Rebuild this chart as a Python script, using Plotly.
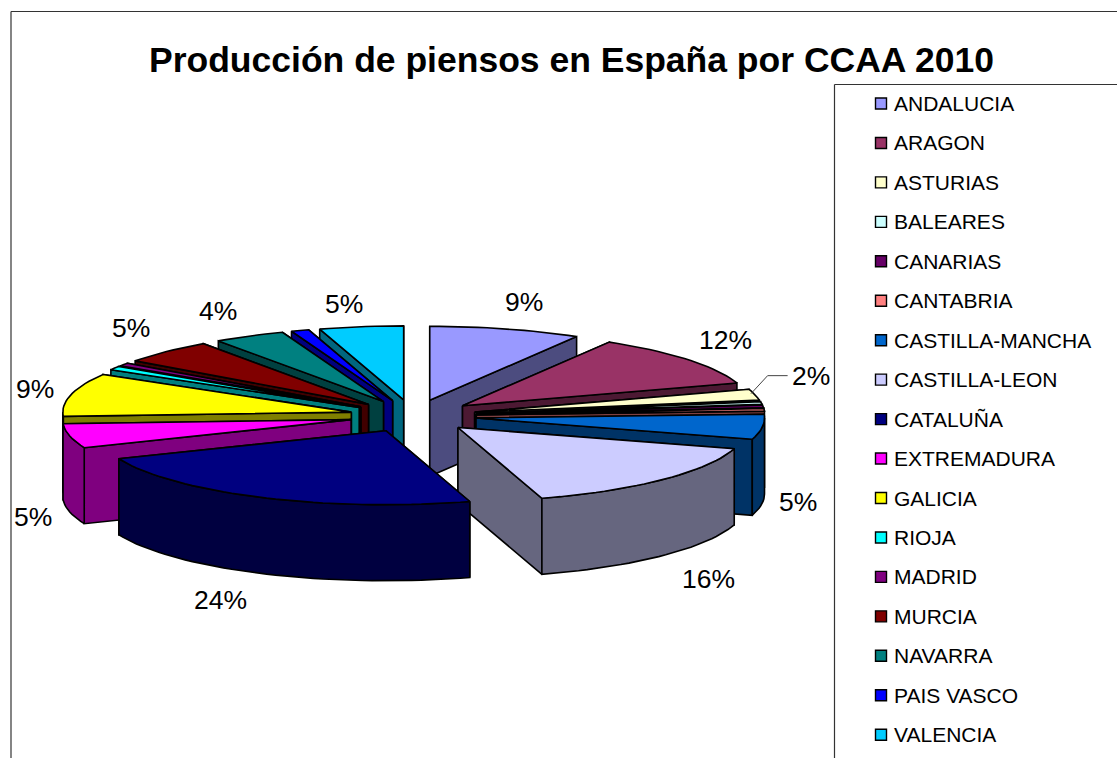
import math
import plotly.graph_objects as go

title = "Producción de piensos en España por CCAA 2010"
categories = ["ANDALUCIA", "ARAGON", "ASTURIAS", "BALEARES", "CANARIAS", "CANTABRIA",
              "CASTILLA-MANCHA", "CASTILLA-LEON", "CATALUÑA", "EXTREMADURA", "GALICIA",
              "RIOJA", "MADRID", "MURCIA", "NAVARRA", "PAIS VASCO", "VALENCIA"]
values = [8.5, 11.5, 2.4, 0.6, 0.6, 0.6, 5.45, 15.65, 23.5, 5.3, 9.4, 0.8, 0.7, 5.3, 4.0, 1.0, 4.7]
colors = ["#9999FF", "#993366", "#FFFFCC", "#CCFFFF", "#660066", "#FF8080", "#0066CC",
          "#CCCCFF", "#000080", "#FF00FF", "#FFFF00", "#00FFFF", "#800080", "#800000",
          "#008080", "#0000FF", "#00CCFF"]
percent_labels = ["9%", "12%", "2%", "", "", "", "5%", "16%", "24%", "5%", "9%", "", "", "5%", "4%", "", "5%"]

# projection of the tilted pie on the chart area
CX, CY, RX, RY, DEPTH, EXPLODE = 413.0, 416.0, 288.5, 74.0, 76.0, 0.22
LINE = 1.6
# small hand placement of the percentage labels
LABEL_NUDGE = {"ANDALUCIA": (5, 2), "ARAGON": (0, -1), "ASTURIAS": (8, 6), "CASTILLA-MANCHA": (-13, -4),
               "CASTILLA-LEON": (11, 2), "CATALUÑA": (-21, 0), "EXTREMADURA": (11, -2), "GALICIA": (12, 1),
               "MURCIA": (-1, -2), "NAVARRA": (-8, 1), "VALENCIA": (-10, 7)}


def darker(hexcol, f=0.5):
    r, g, b = (int(hexcol[i:i + 2], 16) for i in (1, 3, 5))
    return f"rgb({int(r * f)},{int(g * f)},{int(b * f)})"


def pt(apex, deg):
    a = math.radians(deg)
    return apex[0] + RX * math.sin(a), apex[1] - RY * math.cos(a)


def arc(apex, a1, a2):
    n = max(2, int(abs(a2 - a1) / 2) + 2)
    return [pt(apex, a1 + (a2 - a1) * i / (n - 1)) for i in range(n)]


def poly(points, fill):
    xs = [p[0] for p in points] + [points[0][0]]
    ys = [p[1] for p in points] + [points[0][1]]
    return go.Scatter(x=xs, y=ys, mode="lines", fill="toself", fillcolor=fill,
                      line=dict(color="black", width=LINE), hoverinfo="skip", showlegend=False)


def down(points):
    return [(x, y + DEPTH) for x, y in points]


total = sum(values)
slices = []
cum = 0.0
for name, v, col, lab in zip(categories, values, colors, percent_labels):
    a1 = cum / total * 360
    cum += v
    a2 = cum / total * 360
    mid = (a1 + a2) / 2
    m = math.radians(mid)
    apex = (CX + EXPLODE * RX * math.sin(m), CY - EXPLODE * RY * math.cos(m))
    slices.append(dict(name=name, a1=a1, a2=a2, mid=mid, apex=apex, col=col, lab=lab))

fig = go.Figure()
for s in sorted(slices, key=lambda d: -math.cos(math.radians(d["mid"]))):
    apex, a1, a2 = s["apex"], s["a1"], s["a2"]
    side = darker(s["col"])
    # the radial wall further back goes first, the nearer one covers it
    for a in sorted((a1, a2), key=lambda d: pt(apex, d)[1]):
        edge = [apex, pt(apex, a)]
        fig.add_trace(poly(edge + down(edge)[::-1], side))
    r1, r2 = max(a1, 90), min(a2, 270)
    if r2 > r1:
        rim = arc(apex, r1, r2)
        fig.add_trace(poly(rim + down(rim)[::-1], side))
    fig.add_trace(poly([apex] + arc(apex, a1, a2), s["col"]))

# percentage labels
for s in slices:
    if not s["lab"]:
        continue
    m = math.radians(s["mid"])
    dx, dy = LABEL_NUDGE.get(s["name"], (0, 0))
    x = s["apex"][0] + 1.17 * RX * math.sin(m) + dx
    y = s["apex"][1] - 1.4 * RY * math.cos(m) + (DEPTH if math.cos(m) < 0 else 0) + dy
    if s["name"] == "ASTURIAS":
        y -= 18
        tip = pt(s["apex"], s["mid"])
        fig.add_trace(go.Scatter(x=[tip[0] - 4, x - 43, x - 23], y=[tip[1] - 1, y, y], mode="lines",
                                 line=dict(color="#444444", width=1), hoverinfo="skip", showlegend=False))
    fig.add_annotation(x=x, y=y, text=s["lab"], showarrow=False,
                       font=dict(family="Liberation Sans", size=26.5, color="black"))

# legend
LEG_Y0, LEG_STEP = 103.5, 39.45
ys = [LEG_Y0 + LEG_STEP * i for i in range(len(categories))]
fig.add_trace(go.Scatter(x=[881] * len(categories), y=ys, mode="markers",
                         marker=dict(symbol="square", size=11, color=colors,
                                     line=dict(color="black", width=1.4)),
                         hoverinfo="skip", showlegend=False))
for y, c in zip(ys, categories):
    fig.add_annotation(x=892, y=y, text=c, showarrow=False, xanchor="left",
                       font=dict(family="Liberation Sans", size=21, color="black"))

fig.add_annotation(x=571, y=60, text=f"<b>{title}</b>", showarrow=False,
                   font=dict(family="Liberation Sans", size=35.5, color="black"))

frame = dict(color="#333333", width=1.2)
shapes = [
    dict(type="line", x0=11, x1=1117, y0=11.5, y1=11.5, line=frame),
    dict(type="line", x0=11, x1=11, y0=11.5, y1=758, line=frame),
    dict(type="line", x0=834.5, x1=1117, y0=84.5, y1=84.5, line=frame),
    dict(type="line", x0=834.5, x1=834.5, y0=84.5, y1=758, line=frame),
]

fig.update_layout(
    width=1117, height=758, margin=dict(l=0, r=0, t=0, b=0),
    paper_bgcolor="white", plot_bgcolor="white", showlegend=False, shapes=shapes,
    xaxis=dict(range=[0, 1117], visible=False, fixedrange=True),
    yaxis=dict(range=[758, 0], visible=False, fixedrange=True),
)
fig.write_html("out.html", config=dict(displayModeBar=False),
               post_script="document.body.style.margin='0';document.body.style.overflow='hidden';")
